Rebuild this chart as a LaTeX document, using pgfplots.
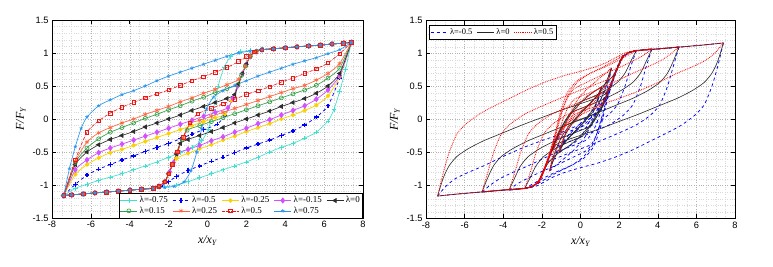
\documentclass[border=0pt]{standalone}
\usepackage{fontspec}
\setmainfont{Liberation Serif}
\setsansfont{Liberation Sans}
\usepackage{pgfplots}
\pgfplotsset{compat=1.18}
\definecolor{cyanT}{RGB}{64,224,208}
\definecolor{goldY}{RGB}{250,210,0}
\definecolor{magP}{RGB}{210,80,255}
\definecolor{blkK}{RGB}{45,45,45}
\definecolor{grnG}{RGB}{50,160,70}
\definecolor{orgO}{RGB}{255,100,60}
\definecolor{redR}{RGB}{240,20,20}
\definecolor{bluL}{RGB}{40,150,240}
\pgfplotsset{
 base/.style={
  scale only axis, width=311bp, height=198bp,
  xmin=-8,xmax=8,ymin=-1.5,ymax=1.5,
  xtick={-8,-6,-4,-2,0,2,4,6,8},
  ytick={-1.5,-1,-0.5,0,0.5,1,1.5},
  minor x tick num=3, minor y tick num=4,
  grid=both,
  major grid style={dotted, gray!60, line width=0.45pt},
  minor grid style={dotted, gray!30, line width=0.35pt},
  tick align=inside, major tick length=4bp, minor tick length=0pt,
  tick style={black, line width=0.5pt},
  axis line style={black, line width=0.6pt},
  ticklabel style={font=\sffamily\fontsize{9.3}{10}\selectfont},
  /pgf/number format/assume math mode=true,
  xlabel={\itshape x/x\textsubscript{Y}},
  ylabel={\itshape F/F\textsubscript{Y}},
  label style={font=\fontsize{12}{14}\selectfont},
  xlabel style={yshift=-1pt},
 },
 lm75/.style={color=cyanT, solid, line width=0.65pt, smooth, tension=0.4, mark=+, mark size=2.3pt, mark options={solid}},
 lm50/.style={color=blue, dashed, line width=0.75pt, smooth, tension=0.4, mark=+, mark size=2.2pt, mark options={solid, line width=1.3pt}},
 lm25/.style={color=goldY, solid, line width=0.75pt, smooth, tension=0.4, mark=*, mark size=1.8pt},
 lm15/.style={color=magP, solid, line width=0.75pt, smooth, tension=0.4, mark=diamond*, mark size=2.5pt},
 lz/.style={color=blkK, solid, line width=0.65pt, smooth, tension=0.4, mark=triangle*, mark size=2.3pt, mark options={solid, rotate=90}},
 lp15/.style={color=grnG, solid, line width=0.65pt, smooth, tension=0.4, mark=o, mark size=2pt},
 lp25/.style={color=orgO, solid, line width=0.65pt, smooth, tension=0.4, mark=asterisk, mark size=2.3pt},
 lp50/.style={color=redR, densely dashdotted, line width=0.65pt, smooth, tension=0.4, mark=square, mark size=1.8pt, mark options={solid}},
 lp75/.style={color=bluL, solid, line width=0.65pt, smooth, tension=0.4, mark=star, mark size=1.8pt},
 rb/.style={color=blue, dashed, line width=0.75pt, smooth, tension=0.4, no markers},
 rk/.style={color=black!85, solid, line width=0.6pt, smooth, tension=0.4, no markers},
 rr/.style={color=red, densely dotted, line width=0.8pt, smooth, tension=0.4, no markers},
}
\begin{document}
\begin{tikzpicture}
\path[use as bounding box] (0,0) rectangle (773bp,267bp);
% ---------------- left panel ----------------
\begin{axis}[base, at={(52bp,49bp)}, anchor=south west,
  legend style={at={(1,0)}, anchor=south east, legend columns=5,
    font=\fontsize{9}{10}\selectfont, draw=black, line width=0.5pt, fill=white,
    inner sep=1pt, row sep=-1.5pt, /tikz/every even column/.append style={column sep=2.5pt}},
  legend cell align=left]
% lambda=-0.75
\addplot[lm75] coordinates {(-7.4,-1.16) (-6.8,-1.05) (-6.2,-0.99) (-5.6,-0.93) (-5.0,-0.88) (-4.4,-0.83) (-3.8,-0.77) (-3.2,-0.71) (-2.6,-0.65) (-2.0,-0.58) (-1.4,-0.51) (-0.8,-0.43) (-0.3,-0.33) (0.05,-0.15) (0.3,0.15) (0.55,0.5) (0.85,0.78) (1.2,0.95) (1.7,1.02) (2.2,1.035) (2.8,1.05) (3.4,1.064) (4.0,1.078) (4.6,1.093) (5.2,1.107) (5.8,1.12) (6.4,1.136) (7.0,1.15) (7.4,1.16)};
\addlegendentry{λ=-0.75}
\addplot[lm75, forget plot] coordinates {(7.4,1.16) (7.1,0.75) (6.8,0.42) (6.5,0.14) (6.2,-0.03) (5.6,-0.2) (5.0,-0.29) (4.4,-0.37) (3.8,-0.43) (3.2,-0.5) (2.6,-0.58) (2.0,-0.65) (1.4,-0.71) (0.8,-0.77) (0.2,-0.83) (-0.4,-0.89) (-1.0,-0.95) (-1.6,-1.0) (-2.2,-1.03) (-2.8,-1.05) (-3.4,-1.064) (-4.0,-1.078) (-4.6,-1.093) (-5.2,-1.107) (-5.8,-1.12) (-6.4,-1.136) (-7.0,-1.15) (-7.4,-1.16)};
% lambda=-0.5
\addplot[lm50] coordinates {(-7.4,-1.16) (-6.8,-0.99) (-6.2,-0.85) (-5.6,-0.76) (-5.0,-0.69) (-4.4,-0.62) (-3.8,-0.56) (-3.2,-0.49) (-2.6,-0.43) (-2.0,-0.37) (-1.4,-0.3) (-0.8,-0.23) (-0.2,-0.16) (0.5,-0.08) (0.9,0.06) (1.25,0.28) (1.55,0.5) (1.8,0.69) (2.0,0.83) (2.2,0.95) (2.5,1.02) (2.8,1.05) (3.4,1.064) (4.0,1.078) (4.6,1.093) (5.2,1.107) (5.8,1.12) (6.4,1.136) (7.0,1.15) (7.4,1.16)};
\addlegendentry{λ=-0.5}
\addplot[lm50, forget plot] coordinates {(7.4,1.16) (6.8,0.62) (6.2,0.2) (5.6,0.03) (5.0,-0.09) (4.4,-0.18) (3.8,-0.25) (3.2,-0.32) (2.6,-0.38) (2.0,-0.44) (1.4,-0.51) (0.8,-0.58) (0.2,-0.64) (-0.4,-0.71) (-1.0,-0.78) (-1.6,-0.87) (-2.0,-0.95) (-2.4,-1.02) (-2.8,-1.05) (-3.4,-1.064) (-4.0,-1.078) (-4.6,-1.093) (-5.2,-1.107) (-5.8,-1.12) (-6.4,-1.136) (-7.0,-1.15) (-7.4,-1.16)};
% lambda=-0.25
\addplot[lm25] coordinates {(-7.4,-1.16) (-6.8,-0.84) (-6.2,-0.69) (-5.6,-0.59) (-5.0,-0.51) (-4.4,-0.46) (-3.8,-0.4) (-3.2,-0.34) (-2.6,-0.28) (-2.0,-0.22) (-1.4,-0.16) (-0.8,-0.1) (-0.2,-0.04) (0.4,0.02) (0.9,0.07) (1.25,0.28) (1.55,0.5) (1.8,0.69) (2.0,0.83) (2.2,0.95) (2.5,1.02) (2.8,1.05) (3.4,1.064) (4.0,1.078) (4.6,1.093) (5.2,1.107) (5.8,1.12) (6.4,1.136) (7.0,1.15) (7.4,1.16)};
\addlegendentry{λ=-0.25}
\addplot[lm25, forget plot] coordinates {(7.4,1.16) (6.8,0.64) (6.2,0.35) (5.6,0.21) (5.0,0.13) (4.4,0.06) (3.8,0.0) (3.2,-0.07) (2.6,-0.13) (2.0,-0.19) (1.4,-0.26) (0.8,-0.32) (0.2,-0.39) (-0.4,-0.45) (-1.0,-0.52) (-1.6,-0.6) (-1.95,-0.8) (-2.2,-0.95) (-2.5,-1.02) (-2.8,-1.05) (-3.4,-1.064) (-4.0,-1.078) (-4.6,-1.093) (-5.2,-1.107) (-5.8,-1.12) (-6.4,-1.136) (-7.0,-1.15) (-7.4,-1.16)};
% lambda=-0.15
\addplot[lm15] coordinates {(-7.4,-1.16) (-6.8,-0.77) (-6.2,-0.62) (-5.6,-0.51) (-5.0,-0.44) (-4.4,-0.38) (-3.8,-0.32) (-3.2,-0.26) (-2.6,-0.2) (-2.0,-0.14) (-1.4,-0.08) (-0.8,-0.02) (-0.2,0.04) (0.4,0.1) (1.05,0.17) (1.3,0.31) (1.55,0.5) (1.8,0.69) (2.0,0.83) (2.2,0.95) (2.5,1.02) (2.8,1.05) (3.4,1.064) (4.0,1.078) (4.6,1.093) (5.2,1.107) (5.8,1.12) (6.4,1.136) (7.0,1.15) (7.4,1.16)};
\addlegendentry{λ=-0.15}
\addplot[lm15, forget plot] coordinates {(7.4,1.16) (6.8,0.66) (6.2,0.44) (5.6,0.3) (5.0,0.2) (4.4,0.13) (3.8,0.06) (3.2,-0.01) (2.6,-0.07) (2.0,-0.14) (1.4,-0.2) (0.8,-0.27) (0.2,-0.33) (-0.4,-0.4) (-1.0,-0.46) (-1.55,-0.52) (-1.75,-0.66) (-1.95,-0.8) (-2.2,-0.95) (-2.5,-1.02) (-2.8,-1.05) (-3.4,-1.064) (-4.0,-1.078) (-4.6,-1.093) (-5.2,-1.107) (-5.8,-1.12) (-6.4,-1.136) (-7.0,-1.15) (-7.4,-1.16)};
% lambda=0
\addplot[lz] coordinates {(-7.4,-1.16) (-6.8,-0.69) (-6.2,-0.5) (-5.6,-0.39) (-5.0,-0.31) (-4.4,-0.25) (-3.8,-0.19) (-3.2,-0.12) (-2.6,-0.06) (-2.0,0.0) (-1.4,0.06) (-0.8,0.13) (-0.2,0.19) (0.4,0.25) (1.0,0.31) (1.4,0.37) (1.6,0.53) (1.8,0.69) (2.0,0.83) (2.2,0.95) (2.5,1.02) (2.8,1.05) (3.4,1.064) (4.0,1.078) (4.6,1.093) (5.2,1.107) (5.8,1.12) (6.4,1.136) (7.0,1.15) (7.4,1.16)};
\addlegendentry{λ=0}
\addplot[lz, forget plot] coordinates {(7.4,1.16) (6.8,0.69) (6.2,0.5) (5.6,0.39) (5.0,0.31) (4.4,0.25) (3.8,0.19) (3.2,0.12) (2.6,0.06) (2.0,0.0) (1.4,-0.06) (0.8,-0.13) (0.2,-0.19) (-0.4,-0.25) (-1.0,-0.31) (-1.4,-0.37) (-1.6,-0.53) (-1.8,-0.69) (-2.0,-0.83) (-2.2,-0.95) (-2.5,-1.02) (-2.8,-1.05) (-3.4,-1.064) (-4.0,-1.078) (-4.6,-1.093) (-5.2,-1.107) (-5.8,-1.12) (-6.4,-1.136) (-7.0,-1.15) (-7.4,-1.16)};
% lambda=0.15
\addplot[lp15] coordinates {(-7.4,-1.16) (-6.8,-0.66) (-6.2,-0.44) (-5.6,-0.3) (-5.0,-0.2) (-4.4,-0.13) (-3.8,-0.06) (-3.2,0.01) (-2.6,0.07) (-2.0,0.14) (-1.4,0.2) (-0.8,0.27) (-0.2,0.33) (0.4,0.4) (1.0,0.46) (1.55,0.52) (1.75,0.66) (1.95,0.8) (2.2,0.95) (2.5,1.02) (2.8,1.05) (3.4,1.064) (4.0,1.078) (4.6,1.093) (5.2,1.107) (5.8,1.12) (6.4,1.136) (7.0,1.15) (7.4,1.16)};
\addlegendentry{λ=0.15}
\addplot[lp15, forget plot] coordinates {(7.4,1.16) (6.8,0.77) (6.2,0.62) (5.6,0.51) (5.0,0.44) (4.4,0.38) (3.8,0.32) (3.2,0.26) (2.6,0.2) (2.0,0.14) (1.4,0.08) (0.8,0.02) (0.2,-0.04) (-0.4,-0.1) (-1.05,-0.17) (-1.3,-0.31) (-1.55,-0.5) (-1.8,-0.69) (-2.0,-0.83) (-2.2,-0.95) (-2.5,-1.02) (-2.8,-1.05) (-3.4,-1.064) (-4.0,-1.078) (-4.6,-1.093) (-5.2,-1.107) (-5.8,-1.12) (-6.4,-1.136) (-7.0,-1.15) (-7.4,-1.16)};
% lambda=0.25
\addplot[lp25] coordinates {(-7.4,-1.16) (-6.8,-0.64) (-6.2,-0.35) (-5.6,-0.21) (-5.0,-0.13) (-4.4,-0.06) (-3.8,0.0) (-3.2,0.07) (-2.6,0.13) (-2.0,0.19) (-1.4,0.26) (-0.8,0.32) (-0.2,0.39) (0.4,0.45) (1.0,0.52) (1.6,0.6) (1.95,0.8) (2.2,0.95) (2.5,1.02) (2.8,1.05) (3.4,1.064) (4.0,1.078) (4.6,1.093) (5.2,1.107) (5.8,1.12) (6.4,1.136) (7.0,1.15) (7.4,1.16)};
\addlegendentry{λ=0.25}
\addplot[lp25, forget plot] coordinates {(7.4,1.16) (6.8,0.84) (6.2,0.69) (5.6,0.59) (5.0,0.51) (4.4,0.46) (3.8,0.4) (3.2,0.34) (2.6,0.28) (2.0,0.22) (1.4,0.16) (0.8,0.1) (0.2,0.04) (-0.4,-0.02) (-0.9,-0.07) (-1.25,-0.28) (-1.55,-0.5) (-1.8,-0.69) (-2.0,-0.83) (-2.2,-0.95) (-2.5,-1.02) (-2.8,-1.05) (-3.4,-1.064) (-4.0,-1.078) (-4.6,-1.093) (-5.2,-1.107) (-5.8,-1.12) (-6.4,-1.136) (-7.0,-1.15) (-7.4,-1.16)};
% lambda=0.5
\addplot[lp50] coordinates {(-7.4,-1.16) (-6.8,-0.62) (-6.2,-0.2) (-5.6,-0.03) (-5.0,0.09) (-4.4,0.18) (-3.8,0.25) (-3.2,0.32) (-2.6,0.38) (-2.0,0.44) (-1.4,0.51) (-0.8,0.58) (-0.2,0.64) (0.4,0.71) (1.0,0.78) (1.6,0.87) (2.0,0.95) (2.4,1.02) (2.8,1.05) (3.4,1.064) (4.0,1.078) (4.6,1.093) (5.2,1.107) (5.8,1.12) (6.4,1.136) (7.0,1.15) (7.4,1.16)};
\addlegendentry{λ=0.5}
\addplot[lp50, forget plot] coordinates {(7.4,1.16) (6.8,0.99) (6.2,0.85) (5.6,0.76) (5.0,0.69) (4.4,0.62) (3.8,0.56) (3.2,0.49) (2.6,0.43) (2.0,0.37) (1.4,0.3) (0.8,0.23) (0.2,0.16) (-0.5,0.08) (-0.9,-0.06) (-1.25,-0.28) (-1.55,-0.5) (-1.8,-0.69) (-2.0,-0.83) (-2.2,-0.95) (-2.5,-1.02) (-2.8,-1.05) (-3.4,-1.064) (-4.0,-1.078) (-4.6,-1.093) (-5.2,-1.107) (-5.8,-1.12) (-6.4,-1.136) (-7.0,-1.15) (-7.4,-1.16)};
% lambda=0.75
\addplot[lp75] coordinates {(-7.4,-1.16) (-7.1,-0.75) (-6.8,-0.42) (-6.5,-0.14) (-6.2,0.03) (-5.6,0.2) (-5.0,0.29) (-4.4,0.37) (-3.8,0.43) (-3.2,0.5) (-2.6,0.58) (-2.0,0.65) (-1.4,0.71) (-0.8,0.77) (-0.2,0.83) (0.4,0.89) (1.0,0.95) (1.6,1.0) (2.2,1.03) (2.8,1.05) (3.4,1.064) (4.0,1.078) (4.6,1.093) (5.2,1.107) (5.8,1.12) (6.4,1.136) (7.0,1.15) (7.4,1.16)};
\addlegendentry{λ=0.75}
\addplot[lp75, forget plot] coordinates {(7.4,1.16) (6.8,1.05) (6.2,0.99) (5.6,0.93) (5.0,0.88) (4.4,0.83) (3.8,0.77) (3.2,0.71) (2.6,0.65) (2.0,0.58) (1.4,0.51) (0.8,0.43) (0.3,0.33) (-0.05,0.15) (-0.3,-0.15) (-0.55,-0.5) (-0.85,-0.78) (-1.2,-0.95) (-1.7,-1.02) (-2.2,-1.035) (-2.8,-1.05) (-3.4,-1.064) (-4.0,-1.078) (-4.6,-1.093) (-5.2,-1.107) (-5.8,-1.12) (-6.4,-1.136) (-7.0,-1.15) (-7.4,-1.16)};
\end{axis}
% ---------------- right panel ----------------
\begin{axis}[base, width=309bp, at={(426bp,48.5bp)}, anchor=south west,
  legend style={at={(0.01,0.975)}, anchor=north west, legend columns=3,
    font=\fontsize{8.5}{9.5}\selectfont, draw=black, line width=0.5pt, fill=white,
    inner sep=1pt, /tikz/every even column/.append style={column sep=2.5pt}},
  legend cell align=left]
\addlegendimage{rb}\addlegendentry{λ=-0.5}
\addlegendimage{rk}\addlegendentry{λ=0}
\addlegendimage{rr}\addlegendentry{λ=0.5}
% ---- lambda=-0.5 (blue) reload branches
\addplot[rb, forget plot] coordinates {(-7.4,-1.16) (-7.0,-1.02) (-6.5,-0.9) (-5.8,-0.8) (-5.0,-0.7) (-4.0,-0.56) (-3.0,-0.43) (-2.0,-0.32) (-1.0,-0.22) (-0.2,-0.14) (0.4,-0.06) (0.8,0.08) (1.15,0.27) (1.45,0.47) (1.75,0.68) (2.0,0.86) (2.25,0.97) (2.6,1.03) (3.2,1.05) (4.2,1.07) (5.3,1.1) (6.4,1.13) (7.4,1.16)};
\addplot[rb, forget plot] coordinates {(-5.1,-1.1) (-4.7,-1.0) (-4.2,-0.9) (-3.5,-0.8) (-2.7,-0.7) (-1.7,-0.56) (-0.7,-0.43) (0.3,-0.31) (0.7,-0.15) (1.0,0.08) (1.25,0.28) (1.5,0.47) (1.75,0.66) (1.95,0.8) (2.15,0.93) (2.4,1.0) (2.8,1.04) (3.6,1.06) (4.4,1.08) (5.1,1.1)};
\addplot[rb, forget plot] coordinates {(-3.7,-1.07) (-3.3,-0.98) (-2.8,-0.9) (-2.1,-0.8) (-1.3,-0.7) (-0.3,-0.56) (0.4,-0.45) (0.8,-0.25) (1.1,0.0) (1.35,0.28) (1.6,0.52) (1.8,0.68) (2.0,0.83) (2.2,0.94) (2.45,1.0) (2.8,1.04) (3.2,1.055) (3.7,1.07)};
\addplot[rb, forget plot] coordinates {(-2.9,-1.05) (-2.5,-0.98) (-2.0,-0.9) (-1.3,-0.8) (-0.5,-0.7) (0.2,-0.58) (0.7,-0.4) (1.05,-0.1) (1.35,0.25) (1.6,0.52) (1.8,0.68) (2.0,0.83) (2.2,0.94) (2.45,1.0) (2.9,1.05)};
\addplot[rb, forget plot] coordinates {(-2.2,-0.97) (-1.8,-0.9) (-1.2,-0.8) (-0.5,-0.7) (0.1,-0.58) (0.6,-0.4) (0.95,-0.12) (1.25,0.2) (1.55,0.5) (1.8,0.72) (2.0,0.86) (2.2,0.97)};
\addplot[rb, forget plot] coordinates {(-1.6,-0.78) (-1.3,-0.7) (-0.8,-0.58) (-0.3,-0.45) (0.2,-0.28) (0.6,-0.05) (0.95,0.22) (1.25,0.47) (1.6,0.78)};
\addplot[rb, forget plot] coordinates {(-1.1,-0.5) (-0.8,-0.44) (-0.3,-0.35) (0.15,-0.2) (0.5,0.0) (0.8,0.22) (1.1,0.5)};
% ---- lambda=-0.5 (blue) unload branches
\addplot[rb, forget plot] coordinates {(7.4,1.16) (7.1,0.8) (6.8,0.5) (6.4,0.22) (5.9,0.06) (5.2,-0.09) (4.5,-0.2) (3.6,-0.33) (2.7,-0.46) (1.8,-0.57) (0.9,-0.66) (0,-0.73) (-0.8,-0.8) (-1.4,-0.87) (-1.9,-0.95) (-2.3,-1.01) (-2.8,-1.04) (-4,-1.07) (-5.2,-1.1) (-6.4,-1.13) (-7.4,-1.16)};
\addplot[rb, forget plot] coordinates {(5.1,1.1) (4.8,0.8) (4.5,0.5) (4.1,0.22) (3.6,0.06) (2.9,-0.08) (2.1,-0.19) (1.3,-0.29) (0.4,-0.4) (-0.5,-0.5) (-1.2,-0.58) (-1.65,-0.64) (-1.95,-0.8) (-2.2,-0.95) (-2.5,-1.02) (-2.9,-1.04) (-3.6,-1.06) (-4.4,-1.08) (-5.1,-1.1)};
\addplot[rb, forget plot] coordinates {(3.7,1.07) (3.4,0.8) (3.1,0.5) (2.7,0.22) (2.2,0.06) (1.5,-0.08) (0.8,-0.17) (-0.1,-0.28) (-0.9,-0.37) (-1.45,-0.44) (-1.75,-0.66) (-1.95,-0.8) (-2.15,-0.93) (-2.4,-1.0) (-2.8,-1.04) (-3.2,-1.055) (-3.7,-1.07)};
\addplot[rb, forget plot] coordinates {(2.9,1.05) (2.6,0.8) (2.3,0.5) (1.9,0.22) (1.4,0.06) (0.7,-0.07) (0,-0.16) (-0.7,-0.24) (-1.25,-0.3) (-1.5,-0.47) (-1.75,-0.66) (-1.95,-0.8) (-2.15,-0.93) (-2.4,-1.0) (-2.9,-1.05)};
\addplot[rb, forget plot] coordinates {(2.2,0.97) (1.9,0.78) (1.6,0.5) (1.2,0.22) (0.7,0.06) (0,-0.07) (-0.6,-0.15) (-1.1,-0.22) (-1.45,-0.45) (-1.75,-0.66) (-1.95,-0.8) (-2.2,-0.97)};
\addplot[rb, forget plot] coordinates {(1.6,0.78) (1.45,0.55) (1.25,0.35) (0.9,0.15) (0.4,-0.02) (-0.2,-0.17) (-0.7,-0.3) (-1.1,-0.42) (-1.35,-0.55) (-1.6,-0.78)};
\addplot[rb, forget plot] coordinates {(1.1,0.5) (0.95,0.33) (0.7,0.17) (0.3,0.03) (-0.1,-0.09) (-0.5,-0.2) (-0.85,-0.32) (-1.1,-0.5)};
% ---- lambda=0 (black) reload branches
\addplot[rk, forget plot] coordinates {(-7.4,-1.16) (-7.1,-0.88) (-6.8,-0.7) (-6.4,-0.56) (-5.8,-0.44) (-5.0,-0.32) (-4.0,-0.2) (-3.0,-0.08) (-2.0,0.03) (-1.0,0.14) (0,0.24) (0.8,0.32) (1.3,0.39) (1.6,0.55) (1.85,0.74) (2.1,0.92) (2.4,1.0) (2.8,1.04) (4,1.07) (5.2,1.1) (6.4,1.13) (7.4,1.16)};
\addplot[rk, forget plot] coordinates {(-5.1,-1.1) (-4.8,-0.88) (-4.5,-0.7) (-4.1,-0.56) (-3.5,-0.44) (-2.7,-0.32) (-1.7,-0.2) (-0.7,-0.08) (0.3,0.03) (1.0,0.13) (1.25,0.28) (1.5,0.47) (1.75,0.66) (1.95,0.8) (2.15,0.93) (2.4,1.0) (2.8,1.04) (3.6,1.06) (4.4,1.08) (5.1,1.1)};
\addplot[rk, forget plot] coordinates {(-3.7,-1.07) (-3.4,-0.88) (-3.1,-0.7) (-2.7,-0.56) (-2.1,-0.44) (-1.3,-0.32) (-0.3,-0.2) (0.5,-0.1) (0.9,0.07) (1.25,0.28) (1.5,0.47) (1.75,0.66) (1.95,0.8) (2.15,0.93) (2.4,1.0) (2.8,1.04) (3.2,1.055) (3.7,1.07)};
\addplot[rk, forget plot] coordinates {(-2.9,-1.05) (-2.6,-0.88) (-2.3,-0.7) (-1.9,-0.56) (-1.3,-0.44) (-0.6,-0.34) (0.1,-0.25) (0.5,-0.1) (0.9,0.08) (1.25,0.28) (1.5,0.47) (1.75,0.66) (1.95,0.8) (2.15,0.93) (2.4,1.0) (2.9,1.05)};
\addplot[rk, forget plot] coordinates {(-2.2,-0.97) (-1.95,-0.8) (-1.65,-0.65) (-1.2,-0.52) (-0.6,-0.4) (-0.1,-0.28) (0.4,-0.12) (0.8,0.06) (1.2,0.28) (1.5,0.49) (1.75,0.67) (1.95,0.82) (2.2,0.97)};
\addplot[rk, forget plot] coordinates {(-1.6,-0.78) (-1.4,-0.62) (-1.1,-0.45) (-0.6,-0.28) (-0.1,-0.13) (0.4,0.03) (0.85,0.2) (1.2,0.4) (1.45,0.6) (1.6,0.78)};
\addplot[rk, forget plot] coordinates {(-1.1,-0.5) (-0.9,-0.38) (-0.5,-0.24) (0,-0.09) (0.45,0.07) (0.8,0.24) (1.1,0.5)};
% ---- lambda=0 (black) unload branches
\addplot[rk, forget plot] coordinates {(7.4,1.16) (7.1,0.88) (6.8,0.7) (6.4,0.56) (5.8,0.44) (5.0,0.32) (4.0,0.2) (3.0,0.08) (2.0,-0.03) (1.0,-0.14) (0,-0.24) (-0.8,-0.32) (-1.3,-0.39) (-1.6,-0.55) (-1.85,-0.74) (-2.1,-0.92) (-2.4,-1.0) (-2.8,-1.04) (-4,-1.07) (-5.2,-1.1) (-6.4,-1.13) (-7.4,-1.16)};
\addplot[rk, forget plot] coordinates {(5.1,1.1) (4.8,0.88) (4.5,0.7) (4.1,0.56) (3.5,0.44) (2.7,0.32) (1.7,0.2) (0.7,0.08) (-0.3,-0.03) (-1.0,-0.13) (-1.25,-0.28) (-1.5,-0.47) (-1.75,-0.66) (-1.95,-0.8) (-2.15,-0.93) (-2.4,-1.0) (-2.8,-1.04) (-3.6,-1.06) (-4.4,-1.08) (-5.1,-1.1)};
\addplot[rk, forget plot] coordinates {(3.7,1.07) (3.4,0.88) (3.1,0.7) (2.7,0.56) (2.1,0.44) (1.3,0.32) (0.3,0.2) (-0.5,0.1) (-0.9,-0.07) (-1.25,-0.28) (-1.5,-0.47) (-1.75,-0.66) (-1.95,-0.8) (-2.15,-0.93) (-2.4,-1.0) (-2.8,-1.04) (-3.2,-1.055) (-3.7,-1.07)};
\addplot[rk, forget plot] coordinates {(2.9,1.05) (2.6,0.88) (2.3,0.7) (1.9,0.56) (1.3,0.44) (0.6,0.34) (-0.1,0.25) (-0.5,0.1) (-0.9,-0.08) (-1.25,-0.28) (-1.5,-0.47) (-1.75,-0.66) (-1.95,-0.8) (-2.15,-0.93) (-2.4,-1.0) (-2.9,-1.05)};
\addplot[rk, forget plot] coordinates {(2.2,0.97) (1.95,0.8) (1.65,0.65) (1.2,0.52) (0.6,0.4) (0.1,0.28) (-0.4,0.12) (-0.8,-0.06) (-1.2,-0.28) (-1.5,-0.49) (-1.75,-0.67) (-1.95,-0.82) (-2.2,-0.97)};
\addplot[rk, forget plot] coordinates {(1.6,0.78) (1.4,0.62) (1.1,0.45) (0.6,0.28) (0.1,0.13) (-0.4,-0.03) (-0.85,-0.2) (-1.2,-0.4) (-1.45,-0.6) (-1.6,-0.78)};
\addplot[rk, forget plot] coordinates {(1.1,0.5) (0.9,0.38) (0.5,0.24) (0,0.09) (-0.45,-0.07) (-0.8,-0.24) (-1.1,-0.5)};
% ---- lambda=0.5 (red) reload branches
\addplot[rr, forget plot] coordinates {(-7.4,-1.16) (-7.1,-0.8) (-6.8,-0.5) (-6.4,-0.22) (-5.9,-0.06) (-5.2,0.09) (-4.5,0.2) (-3.6,0.33) (-2.7,0.46) (-1.8,0.57) (-0.9,0.66) (0,0.73) (0.8,0.8) (1.4,0.87) (1.9,0.95) (2.3,1.01) (2.8,1.04) (4,1.07) (5.2,1.1) (6.4,1.13) (7.4,1.16)};
\addplot[rr, forget plot] coordinates {(-5.1,-1.1) (-4.8,-0.8) (-4.5,-0.5) (-4.1,-0.22) (-3.6,-0.06) (-2.9,0.08) (-2.1,0.19) (-1.3,0.29) (-0.4,0.4) (0.5,0.5) (1.2,0.58) (1.65,0.64) (1.95,0.8) (2.2,0.95) (2.5,1.02) (2.9,1.04) (3.6,1.06) (4.4,1.08) (5.1,1.1)};
\addplot[rr, forget plot] coordinates {(-3.7,-1.07) (-3.4,-0.8) (-3.1,-0.5) (-2.7,-0.22) (-2.2,-0.06) (-1.5,0.08) (-0.8,0.17) (0.1,0.28) (0.9,0.37) (1.45,0.44) (1.75,0.66) (1.95,0.8) (2.15,0.93) (2.4,1.0) (2.8,1.04) (3.2,1.055) (3.7,1.07)};
\addplot[rr, forget plot] coordinates {(-2.9,-1.05) (-2.6,-0.8) (-2.3,-0.5) (-1.9,-0.22) (-1.4,-0.06) (-0.7,0.07) (0,0.16) (0.7,0.24) (1.25,0.3) (1.5,0.47) (1.75,0.66) (1.95,0.8) (2.15,0.93) (2.4,1.0) (2.9,1.05)};
\addplot[rr, forget plot] coordinates {(-2.2,-0.97) (-1.9,-0.78) (-1.6,-0.5) (-1.2,-0.22) (-0.7,-0.06) (0,0.07) (0.6,0.15) (1.1,0.22) (1.45,0.45) (1.75,0.66) (1.95,0.8) (2.2,0.97)};
\addplot[rr, forget plot] coordinates {(-1.6,-0.78) (-1.45,-0.55) (-1.25,-0.35) (-0.9,-0.15) (-0.4,0.02) (0.2,0.17) (0.7,0.3) (1.1,0.42) (1.35,0.55) (1.6,0.78)};
\addplot[rr, forget plot] coordinates {(-1.1,-0.5) (-0.95,-0.33) (-0.7,-0.17) (-0.3,-0.03) (0.1,0.09) (0.5,0.2) (0.85,0.32) (1.1,0.5)};
% ---- lambda=0.5 (red) unload branches
\addplot[rr, forget plot] coordinates {(7.4,1.16) (7.0,1.02) (6.5,0.9) (5.8,0.8) (5.0,0.7) (4.0,0.56) (3.0,0.43) (2.0,0.32) (1.0,0.22) (0.2,0.14) (-0.4,0.06) (-0.8,-0.08) (-1.15,-0.27) (-1.45,-0.47) (-1.75,-0.68) (-2.0,-0.86) (-2.25,-0.97) (-2.6,-1.03) (-3.2,-1.05) (-4.2,-1.07) (-5.3,-1.1) (-6.4,-1.13) (-7.4,-1.16)};
\addplot[rr, forget plot] coordinates {(5.1,1.1) (4.7,1.0) (4.2,0.9) (3.5,0.8) (2.7,0.7) (1.7,0.56) (0.7,0.43) (-0.3,0.31) (-0.7,0.15) (-1.0,-0.08) (-1.25,-0.28) (-1.5,-0.47) (-1.75,-0.66) (-1.95,-0.8) (-2.15,-0.93) (-2.4,-1.0) (-2.8,-1.04) (-3.6,-1.06) (-4.4,-1.08) (-5.1,-1.1)};
\addplot[rr, forget plot] coordinates {(3.7,1.07) (3.3,0.98) (2.8,0.9) (2.1,0.8) (1.3,0.7) (0.3,0.56) (-0.4,0.45) (-0.8,0.25) (-1.1,0.0) (-1.35,-0.28) (-1.6,-0.52) (-1.8,-0.68) (-2.0,-0.83) (-2.2,-0.94) (-2.45,-1.0) (-2.8,-1.04) (-3.2,-1.055) (-3.7,-1.07)};
\addplot[rr, forget plot] coordinates {(2.9,1.05) (2.5,0.98) (2.0,0.9) (1.3,0.8) (0.5,0.7) (-0.2,0.58) (-0.7,0.4) (-1.05,0.1) (-1.35,-0.25) (-1.6,-0.52) (-1.8,-0.68) (-2.0,-0.83) (-2.2,-0.94) (-2.45,-1.0) (-2.9,-1.05)};
\addplot[rr, forget plot] coordinates {(2.2,0.97) (1.8,0.9) (1.2,0.8) (0.5,0.7) (-0.1,0.58) (-0.6,0.4) (-0.95,0.12) (-1.25,-0.2) (-1.55,-0.5) (-1.8,-0.72) (-2.0,-0.86) (-2.2,-0.97)};
\addplot[rr, forget plot] coordinates {(1.6,0.78) (1.3,0.7) (0.8,0.58) (0.3,0.45) (-0.2,0.28) (-0.6,0.05) (-0.95,-0.22) (-1.25,-0.47) (-1.6,-0.78)};
\addplot[rr, forget plot] coordinates {(1.1,0.5) (0.8,0.44) (0.3,0.35) (-0.15,0.2) (-0.5,0.0) (-0.8,-0.22) (-1.1,-0.5)};
\end{axis}
\end{tikzpicture}
\end{document}
